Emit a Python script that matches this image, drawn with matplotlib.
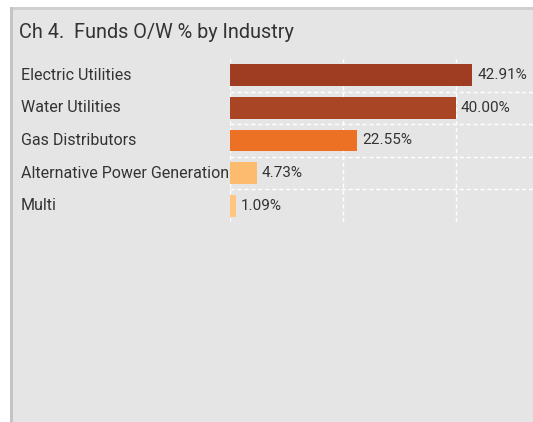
import matplotlib.pyplot as plt
import matplotlib.transforms as mtransforms
from matplotlib.patches import Rectangle

industries = ["Electric Utilities", "Water Utilities", "Gas Distributors",
              "Alternative Power Generation", "Multi"]
values = [42.91, 40.00, 22.55, 4.73, 1.09]
bar_colors = ["#9e3d22", "#a94424", "#ec7125", "#fcbb6e", "#fec681"]
x_ticks = [0, 20, 40]

plt.rcParams['font.family'] = ['Roboto', 'DejaVu Sans']
W, H = 533, 422
fig = plt.figure(figsize=(W / 100, H / 100), dpi=100)
fig.patch.set_facecolor("white")

# grey panel with borders (behind the axes)
fig.patches.append(Rectangle((10 / W, 0), 1 - 10 / W, 1 - 7 / H, transform=fig.transFigure,
                             facecolor="#e5e5e5", edgecolor="none", zorder=-3))
fig.patches.append(Rectangle((10 / W, 1 - 10 / H), 1 - 10 / W, 3 / H, transform=fig.transFigure,
                             facecolor="#cfcfcf", edgecolor="none", zorder=-2))
fig.patches.append(Rectangle((10 / W, 0), 3 / W, 1 - 7 / H, transform=fig.transFigure,
                             facecolor="#c4c4c4", edgecolor="none", zorder=-2))

fig.text(19 / W, 1 - 33 / H, "Ch 4.  Funds O/W % by Industry", fontsize=14.3,
         color="#333333", va="center", ha="left")

ax = fig.add_axes([230 / W, 1 - 222 / H, (W - 230) / W, (222 - 59) / H])
ax.set_facecolor("none")
ypos = list(range(len(values)))
ax.barh(ypos, values, height=0.67, color=bar_colors, zorder=3)
ax.set_ylim(len(values) - 0.5, -0.5)
ax.set_xlim(0, 53.7)

for x in x_ticks:
    ax.axvline(x, color="white", lw=1, ls=(0, (3, 2)), zorder=1)
for i in range(len(values) - 1):
    ax.axhline(i + 0.5, color="white", lw=1, ls=(0, (3, 2)), zorder=1)

for i, v in enumerate(values):
    ax.annotate(f"{v:.2f}%", (v, i), xytext=(3.6, 0), textcoords="offset points",
                va="center", ha="left", fontsize=11, color="#333333", zorder=4)

trans = mtransforms.blended_transform_factory(fig.transFigure, ax.transData)
for i, name in enumerate(industries):
    ax.text(21 / W, i, name, transform=trans, va="center", ha="left",
            fontsize=11.5, color="#333333", zorder=2, clip_on=False)

ax.set_xticks([])
ax.set_yticks([])
for s in ax.spines.values():
    s.set_visible(False)

fig.savefig("out.png", dpi=100)
